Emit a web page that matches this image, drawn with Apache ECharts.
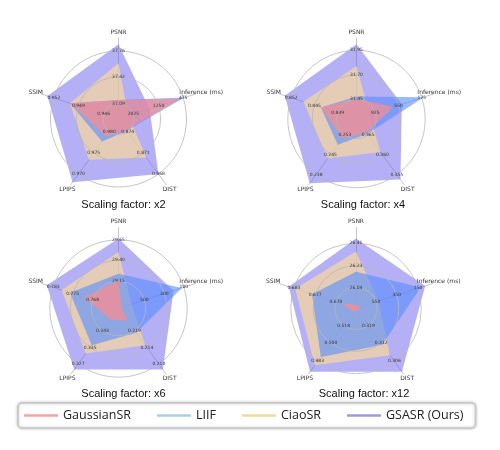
<!DOCTYPE html>
<html>
<head>
<meta charset="utf-8">
<script src="https://cdn.jsdelivr.net/npm/echarts@6/dist/echarts.min.js"></script>
<style>
html, body { margin: 0; padding: 0; background: #fff; }
#main { width: 500px; height: 450px; }
</style>
</head>
<body>
<div id="main"></div>
<script>
var methods = ['GaussianSR', 'LIIF', 'CiaoSR', 'GSASR (Ours)'];
var metrics = ['PSNR', 'SSIM', 'LPIPS', 'DIST', 'Inference (ms)'];
var scales = ['x2', 'x4', 'x6', 'x12'];

// normalised score per metric (1 = outer ring), one row per scaling factor
var gaussianSR = [
    [0.28, 0.75, 0.31, 0.20, 0.96],
    [0.30, 0.55, 0.35, 0.25, 0.57],
    [0.41, 0.53, 0.20, 0.22, 0.05],
    [0.06, 0.21, 0.06, 0.05, 0.06]
];
var liif = [
    [0.28, 0.75, 0.41, 0.21, 1.02],
    [0.33, 0.55, 0.47, 0.27, 1.04],
    [0.51, 0.75, 0.67, 0.44, 0.98],
    [0.54, 0.68, 0.88, 0.66, 1.00]
];
var ciaoSR = [
    [0.82, 0.75, 0.74, 0.70, 0.15],
    [0.78, 0.82, 0.72, 0.60, 0.20],
    [0.83, 0.88, 0.82, 0.67, 0.20],
    [0.84, 0.94, 1.03, 0.85, 0.35]
];
var gsasr = [
    [1.10, 1.10, 1.15, 1.00, 0.48],
    [1.10, 1.11, 1.17, 1.10, 0.70],
    [1.03, 1.11, 1.11, 1.11, 0.85],
    [1.03, 1.04, 1.15, 1.15, 1.07]
];

// where the three rings sit, same unit as the scores
var ringLevels = [
    [0.23, 0.62, 1.00],
    [0.29, 0.65, 1.01],
    [0.40, 0.71, 1.01],
    [0.31, 0.63, 0.96]
];

// ring labels [inner, middle, outer] for each metric
var ticksX2 = [['37.09', '37.42', '37.76'], ['0.946', '0.949', '0.952'], ['0.980', '0.975', '0.970'], ['0.874', '0.871', '0.868'], ['2025', '1250', '475']];
var ticksX4 = [['31.45', '31.70', '31.95'], ['0.839', '0.845', '0.852'], ['0.253', '0.245', '0.238'], ['0.365', '0.360', '0.355'], ['925', '550', '175']];
var ticksX6 = [['29.15', '29.40', '29.65'], ['0.768', '0.775', '0.783'], ['0.343', '0.335', '0.327'], ['0.219', '0.214', '0.210'], ['500', '300', '100']];
var ticksX12 = [['26.04', '26.23', '26.41'], ['0.670', '0.677', '0.683'], ['0.518', '0.500', '0.483'], ['0.319', '0.312', '0.306'], ['550', '350', '150']];
var tickSets = [ticksX2, ticksX4, ticksX6, ticksX12];

// layout
var centers = [[118.5, 119], [356.5, 119], [118.5, 308.5], [356, 308.5]];
var titlePos = [[123.5, 199], [363, 199], [123.5, 388], [364, 388]];
var unit = 68;     // px for score 1
var axisLen = 81;  // px length of spokes

var fillColors = ['#ff8c8c', '#558cff', '#f8d99b', '#6b62ee'];
var fillOpacity = [0.7, 0.6, 0.7, 0.5];
var legendColors = ['#f2a3a3', '#a9cfe2', '#efdb9c', '#9e9ade'];
var gridColor = '#b8b8b8';

var allData = [gaussianSR, liif, ciaoSR, gsasr];

var radars = [];
var series = [];
var titles = [];

function labelFormatter(text) {
    return function() { return text; };
}

for (var c = 0; c < scales.length; c++) {
    // spokes + metric names
    radars.push({
        center: centers[c],
        radius: axisLen,
        startAngle: 90,
        splitNumber: 1,
        shape: 'circle',
        indicator: metrics.map(function(m) { return {name: m, min: 0, max: axisLen / unit}; }),
        axisName: {color: '#333', fontSize: 6, fontFamily: 'DejaVu Sans', align: 'center', verticalAlign: 'middle'},
        axisNameGap: 6,
        axisLine: {lineStyle: {color: gridColor, width: 0.8}},
        splitLine: {show: false},
        splitArea: {show: false},
        axisTick: {show: false},
        axisLabel: {show: false}
    });
    var dataRadar = radars.length - 1;

    // rings with their labels
    for (var k = 0; k < 3; k++) {
        var ind = [];
        for (var i = 0; i < metrics.length; i++) {
            ind.push({name: metrics[i], min: 0, max: 1, axisLabel: {formatter: labelFormatter(tickSets[c][i][k])}});
        }
        radars.push({
            center: centers[c],
            radius: ringLevels[c][k] * unit,
            startAngle: 90,
            splitNumber: 1,
            shape: 'circle',
            z: 3,
            indicator: ind,
            axisName: {show: false},
            axisLine: {show: false},
            axisTick: {show: false},
            splitArea: {show: false},
            splitLine: {lineStyle: {color: gridColor, width: 0.8}},
            axisLabel: {
                show: true, showMinLabel: false, margin: 0,
                fontSize: 4.5, color: '#333', fontFamily: 'DejaVu Sans',
                align: 'center', verticalAlign: 'middle'
            }
        });
    }

    // GSASR at the bottom, GaussianSR on top
    var items = [];
    for (var m = methods.length - 1; m >= 0; m--) {
        items.push({
            name: methods[m],
            value: allData[m][c],
            areaStyle: {color: fillColors[m], opacity: fillOpacity[m]},
            lineStyle: {width: 0, color: fillColors[m]},
            itemStyle: {color: fillColors[m]}
        });
    }
    series.push({
        type: 'radar',
        radarIndex: dataRadar,
        symbol: 'none',
        z: 2,
        data: items
    });

    titles.push({
        text: 'Scaling factor: ' + scales[c],
        left: titlePos[c][0],
        top: titlePos[c][1],
        textAlign: 'center',
        padding: 0,
        textStyle: {fontSize: 11, fontWeight: 'normal', color: '#111', fontFamily: 'Liberation Sans'}
    });
}

var myChart = echarts.init(document.getElementById('main'), null, {renderer: 'canvas'});
var option = {
    animation: false,
    backgroundColor: '#fff',
    title: titles,
    legend: {
        data: methods.map(function(m, i) { return {name: m, itemStyle: {color: legendColors[i]}}; }),
        left: 18,
        top: 403,
        icon: 'rect',
        itemWidth: 34,
        itemHeight: 2.5,
        itemGap: 26,
        padding: [6, 12, 6, 6],
        borderColor: '#c8c8c8',
        borderWidth: 1.5,
        borderRadius: 4,
        shadowBlur: 3,
        shadowColor: 'rgba(0,0,0,0.25)',
        backgroundColor: '#fff',
        textStyle: {fontSize: 12.5, color: '#222', fontFamily: 'Open Sans'}
    },
    radar: radars,
    series: series
};
myChart.setOption(option);
</script>
</body>
</html>
